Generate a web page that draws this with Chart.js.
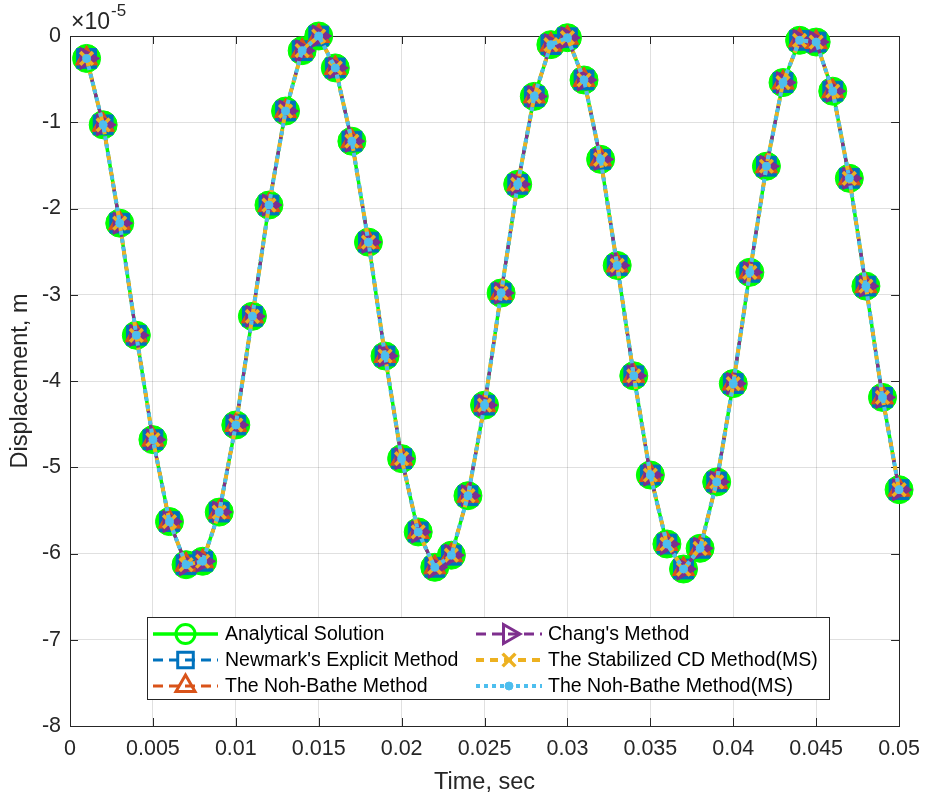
<!DOCTYPE html>
<html>
<head>
<meta charset="utf-8">
<title>Displacement vs time</title>
<script src="https://cdn.jsdelivr.net/npm/chart.js@4.4.1/dist/chart.umd.min.js"></script>
<style>
  body { margin: 0; background: #fff; }
  canvas { display: block; }
</style>
</head>
<body>
<canvas id="chart" width="930" height="800"></canvas>
<script>
// time steps, sec
const time = [
  0.001, 0.002, 0.003, 0.004, 0.005, 0.006, 0.007, 0.008, 0.009, 0.010,
  0.011, 0.012, 0.013, 0.014, 0.015, 0.016, 0.017, 0.018, 0.019, 0.020,
  0.021, 0.022, 0.023, 0.024, 0.025, 0.026, 0.027, 0.028, 0.029, 0.030,
  0.031, 0.032, 0.033, 0.034, 0.035, 0.036, 0.037, 0.038, 0.039, 0.040,
  0.041, 0.042, 0.043, 0.044, 0.045, 0.046, 0.047, 0.048, 0.049, 0.050
];

// displacement in units of 1e-5 m (all methods overlap the analytical curve)
const analytical = [
  -0.26, -1.03, -2.17, -3.47, -4.68, -5.63, -6.13, -6.09, -5.52, -4.51,
  -3.25, -1.96, -0.87, -0.17,  0.00, -0.37, -1.22, -2.39, -3.71, -4.90,
  -5.75, -6.16, -6.02, -5.33, -4.28, -2.98, -1.72, -0.70, -0.10, -0.02,
  -0.51, -1.43, -2.66, -3.94, -5.09, -5.89, -6.18, -5.94, -5.17, -4.03,
  -2.74, -1.51, -0.54, -0.05, -0.07, -0.64, -1.65, -2.90, -4.19, -5.26
];
const newmarkExplicit = analytical.slice();
const nohBathe = analytical.slice();
const chang = analytical.slice();
const stabilizedCD = analytical.slice();
const nohBatheMS = analytical.slice();

const xTicks = [0, 0.005, 0.01, 0.015, 0.02, 0.025, 0.03, 0.035, 0.04, 0.045, 0.05];
const xTickLabels = ['0', '0.005', '0.01', '0.015', '0.02', '0.025', '0.03', '0.035', '0.04', '0.045', '0.05'];
const yTicks = [0, -1, -2, -3, -4, -5, -6, -7, -8];
const yTickLabels = ['0', '-1', '-2', '-3', '-4', '-5', '-6', '-7', '-8'];

const FONT = "'Liberation Sans', Arial, Helvetica, sans-serif";
const INK = '#262626';

const toPoints = vals => time.map((t, i) => ({ x: t, y: vals[i] }));

function series(label, vals, s) {
  return {
    label,
    data: toPoints(vals),
    borderColor: s.color,
    backgroundColor: s.color,
    borderWidth: s.width,
    borderDash: s.dash || [],
    pointStyle: s.marker,
    rotation: s.rotation || 0,
    pointRadius: s.radius,
    pointBackgroundColor: s.fill ? s.color : 'rgba(0,0,0,0)',
    pointBorderColor: s.color,
    pointBorderWidth: s.markerWidth,
    tension: 0,
    clip: false,
    order: s.order,
    legendMarker: s.legend
  };
}

const datasets = [
  series('Analytical Solution', analytical,
    { color: '#00ff00', width: 3.5, marker: 'circle', radius: 14, fill: true, markerWidth: 1, order: 6,
      legend: { radius: 9.5, width: 3 } }),
  series("Newmark's Explicit Method", newmarkExplicit,
    { color: '#0072bd', width: 3, dash: [10, 6], marker: 'rect', radius: 14, fill: true, markerWidth: 1, order: 5,
      legend: { radius: 11, width: 3 } }),
  series('The Noh-Bathe Method', nohBathe,
    { color: '#d95319', width: 3, dash: [10, 6], marker: 'triangle', radius: 13, fill: true, markerWidth: 1, order: 4,
      legend: { radius: 11, width: 3 } }),
  series("Chang's Method", chang,
    { color: '#7e2f8e', width: 3, dash: [10, 6], marker: 'triangle', rotation: 90, radius: 13, fill: true, markerWidth: 1, order: 3,
      legend: { radius: 11, width: 3 } }),
  series('The Stabilized CD Method(MS)', stabilizedCD,
    { color: '#edb120', width: 4, dash: [8, 6], marker: 'crossRot', radius: 9, fill: false, markerWidth: 3.5, order: 2,
      legend: { radius: 9, width: 3.5 } }),
  series('The Noh-Bathe Method(MS)', nohBatheMS,
    { color: '#4dbeee', width: 4, dash: [4, 4], marker: 'circle', radius: 4, fill: true, markerWidth: 1, order: 1,
      legend: { radius: 4, width: 1, fill: true } })
];

// MATLAB-like frame, inner ticks, exponent and legend
const matlabAxes = {
  id: 'matlabAxes',
  beforeDatasetsDraw(chart) {
    const { ctx, chartArea: a, scales: { x, y } } = chart;
    ctx.save();
    ctx.strokeStyle = INK;
    ctx.lineWidth = 1;
    ctx.strokeRect(Math.round(a.left) + 0.5, Math.round(a.top) + 0.5,
      Math.round(a.right - a.left), Math.round(a.bottom - a.top));
    ctx.beginPath();
    xTicks.forEach(v => {
      const px = Math.round(x.getPixelForValue(v)) + 0.5;
      ctx.moveTo(px, a.bottom); ctx.lineTo(px, a.bottom - 8);
      ctx.moveTo(px, a.top); ctx.lineTo(px, a.top + 8);
    });
    yTicks.forEach(v => {
      const py = Math.round(y.getPixelForValue(v)) + 0.5;
      ctx.moveTo(a.left, py); ctx.lineTo(a.left + 8, py);
      ctx.moveTo(a.right, py); ctx.lineTo(a.right - 8, py);
    });
    ctx.stroke();
    ctx.restore();
  },
  afterDraw(chart) {
    const { ctx, chartArea: a } = chart;
    ctx.save();
    // x10^-5 exponent
    ctx.fillStyle = INK;
    ctx.textBaseline = 'alphabetic';
    ctx.font = '23px ' + FONT;
    ctx.fillText('×10', a.left + 1, 29);
    const w = ctx.measureText('×10').width;
    ctx.font = '17px ' + FONT;
    ctx.fillText('-5', a.left + 2 + w, 16);

    // legend box
    const box = { left: 147, top: 617, right: 829, bottom: 699 };
    ctx.fillStyle = '#fff';
    ctx.fillRect(box.left, box.top, box.right - box.left, box.bottom - box.top);
    ctx.strokeStyle = INK;
    ctx.lineWidth = 1;
    ctx.strokeRect(box.left + 0.5, box.top + 0.5, box.right - box.left, box.bottom - box.top);

    const rows = [634, 660, 686];
    const cols = [{ x0: 153, x1: 218, tx: 225 }, { x0: 476, x1: 542, tx: 548 }];
    chart.data.datasets.forEach((ds, i) => {
      const col = cols[Math.floor(i / 3)];
      const ry = rows[i % 3];
      ctx.save();
      ctx.strokeStyle = ds.borderColor;
      ctx.lineWidth = ds.borderWidth;
      ctx.setLineDash(ds.borderDash);
      ctx.beginPath();
      ctx.moveTo(col.x0, ry); ctx.lineTo(col.x1, ry);
      ctx.stroke();
      ctx.setLineDash([]);
      const lm = ds.legendMarker;
      ctx.fillStyle = lm.fill ? ds.borderColor : 'rgba(0,0,0,0)';
      ctx.strokeStyle = ds.borderColor;
      ctx.lineWidth = lm.width;
      Chart.helpers.drawPoint(ctx, {
        pointStyle: ds.pointStyle, rotation: ds.rotation,
        radius: lm.radius, borderWidth: lm.width
      }, (col.x0 + col.x1) / 2, ry);
      ctx.restore();
      ctx.fillStyle = '#000';
      ctx.font = '19.5px ' + FONT;
      ctx.textBaseline = 'middle';
      ctx.fillText(ds.label, col.tx, ry + 1);
    });
    ctx.restore();
  }
};

new Chart(document.getElementById('chart'), {
  type: 'line',
  data: { datasets },
  options: {
    responsive: false,
    animation: false,
    devicePixelRatio: 1,
    layout: { padding: { left: 0, right: 29, top: 36, bottom: 0 } },
    plugins: { legend: { display: false }, tooltip: { enabled: false } },
    scales: {
      x: {
        type: 'linear',
        min: 0,
        max: 0.05,
        afterBuildTicks: axis => { axis.ticks = xTicks.map(v => ({ value: v })); },
        afterFit: axis => { axis.height = 74; },
        border: { display: false },
        grid: { color: 'rgba(0,0,0,0.12)', drawTicks: false },
        ticks: {
          padding: 10,
          color: INK,
          font: { family: FONT, size: 21.5 },
          maxRotation: 0,
          autoSkip: false,
          callback: (v, i) => xTickLabels[i]
        },
        title: {
          display: true,
          text: 'Time, sec',
          color: INK,
          font: { family: FONT, size: 23.5 },
          padding: { top: 0, bottom: 3 }
        }
      },
      y: {
        min: -8,
        max: 0,
        afterBuildTicks: axis => { axis.ticks = yTicks.map(v => ({ value: v })); },
        afterFit: axis => { axis.width = 70; },
        border: { display: false },
        grid: { color: 'rgba(0,0,0,0.12)', drawTicks: false },
        ticks: {
          padding: 9,
          color: INK,
          font: { family: FONT, size: 21.5 },
          autoSkip: false,
          callback: (v, i) => yTickLabels[i]
        },
        title: {
          display: true,
          text: 'Displacement, m',
          color: INK,
          font: { family: FONT, size: 23.5 },
          padding: { top: 6, bottom: 0 }
        }
      }
    }
  },
  plugins: [matlabAxes]
});
</script>
</body>
</html>
